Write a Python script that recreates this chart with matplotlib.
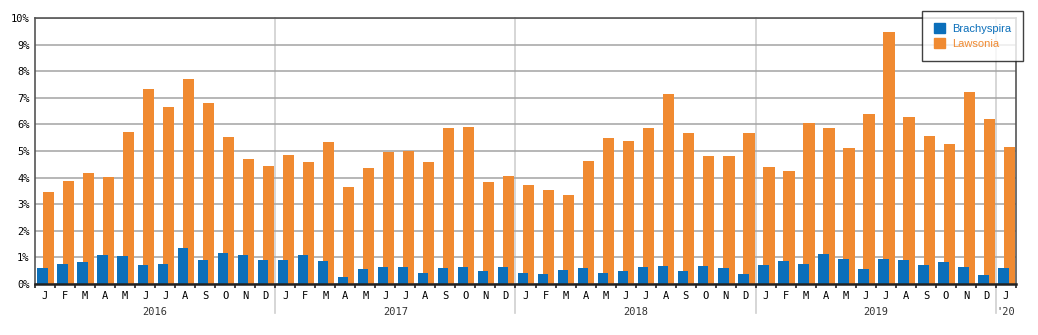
import numpy as np
import matplotlib.pyplot as plt
import matplotlib.transforms as mtransforms
from matplotlib.patches import Patch

# monthly data Jan 2016 - Jan 2020 (% of samples positive)
months = list("JFMAMJJASOND") * 4 + ["J"]
years = ["2016", "2017", "2018", "2019", "'20"]

brachyspira = [0.59, 0.76, 0.84, 1.10, 1.06, 0.73, 0.76, 1.36, 0.91, 1.18, 1.10, 0.91,
               0.91, 1.10, 0.88, 0.28, 0.58, 0.65, 0.65, 0.43, 0.61, 0.65, 0.50, 0.65,
               0.43, 0.39, 0.54, 0.61, 0.43, 0.50, 0.65, 0.69, 0.50, 0.69, 0.61, 0.39,
               0.73, 0.88, 0.76, 1.14, 0.95, 0.58, 0.95, 0.91, 0.73, 0.84, 0.65, 0.35,
               0.61]
lawsonia = [3.44, 3.88, 4.18, 4.03, 5.71, 7.34, 6.65, 7.70, 6.80, 5.53, 4.70, 4.45,
            4.85, 4.59, 5.34, 3.65, 4.36, 4.96, 5.00, 4.59, 5.86, 5.90, 3.84, 4.06,
            3.73, 3.54, 3.35, 4.63, 5.49, 5.38, 5.86, 7.14, 5.68, 4.81, 4.81, 5.68,
            4.40, 4.25, 6.05, 5.86, 5.11, 6.39, 9.46, 6.28, 5.56, 5.26, 7.21, 6.20,
            5.15]

blue = "#0b6fba"
orange = "#f08a31"
mono = ["DejaVu Sans Mono"]

fig = plt.figure(figsize=(10.38, 3.35), dpi=100)
ax = fig.add_axes([35 / 1038, 51 / 335, 981 / 1038, 266 / 335])

x = np.arange(len(months))
ax.bar(x + 0.16, lawsonia, width=0.56, color=orange, zorder=2)
ax.bar(x - 0.12, brachyspira, width=0.52, color=blue, zorder=3)

ax.set_xlim(-0.5, len(months) - 0.5)
ax.set_ylim(0, 10)
ax.set_yticks(range(0, 11))
ax.set_yticklabels([f"{v}%" for v in range(0, 11)], family=mono, fontsize=7.5)
ax.yaxis.grid(True, color="#a3a3a3", linewidth=1.1, zorder=0)
ax.tick_params(axis="y", length=0, pad=4)

ax.set_xticks(x)
ax.set_xticklabels(months, family=mono, fontsize=7.5)
ax.set_xticks(np.arange(-0.5, len(months)), minor=True)
ax.tick_params(axis="x", which="major", length=0, pad=5)
ax.tick_params(axis="x", which="minor", length=3, width=1.2, color="#222222")

for side in ["top", "left", "right"]:
    ax.spines[side].set_color("#555555")
    ax.spines[side].set_linewidth(1.2)
ax.spines["bottom"].set_color("#222222")
ax.spines["bottom"].set_linewidth(1.8)
ax.spines["bottom"].set_zorder(4)

# year separators, running down into the label area
for b in [11.5, 23.5, 35.5, 47.5]:
    ax.plot([b, b], [-1.1, 10], color="#cfcfcf", linewidth=1.2, clip_on=False, zorder=1)

# year labels
trans = mtransforms.blended_transform_factory(ax.transData, ax.transAxes)
centers = [5.5, 17.5, 29.5, 41.5, 48]
for c, y in zip(centers, years):
    ax.text(c, -0.105, y, transform=trans, ha="center", va="center",
            family=mono, fontsize=7.5, color="#333333")

# legend
handles = [Patch(color=blue), Patch(color=orange)]
leg = fig.legend(handles, ["Brachyspira", "Lawsonia"],
                 loc="upper right", bbox_to_anchor=(1023 / 1038, 1 - 11 / 335),
                 borderaxespad=0, frameon=True, fancybox=False, edgecolor="#111111",
                 handlelength=1.0, handleheight=1.0, handletextpad=0.6,
                 borderpad=1.1, labelspacing=0.35,
                 prop={"family": ["Liberation Sans"], "size": 8})
leg.get_frame().set_linewidth(1.0)
leg.set_zorder(10)
for t, c in zip(leg.get_texts(), [blue, orange]):
    t.set_color(c)

fig.savefig("out.png", dpi=100)
